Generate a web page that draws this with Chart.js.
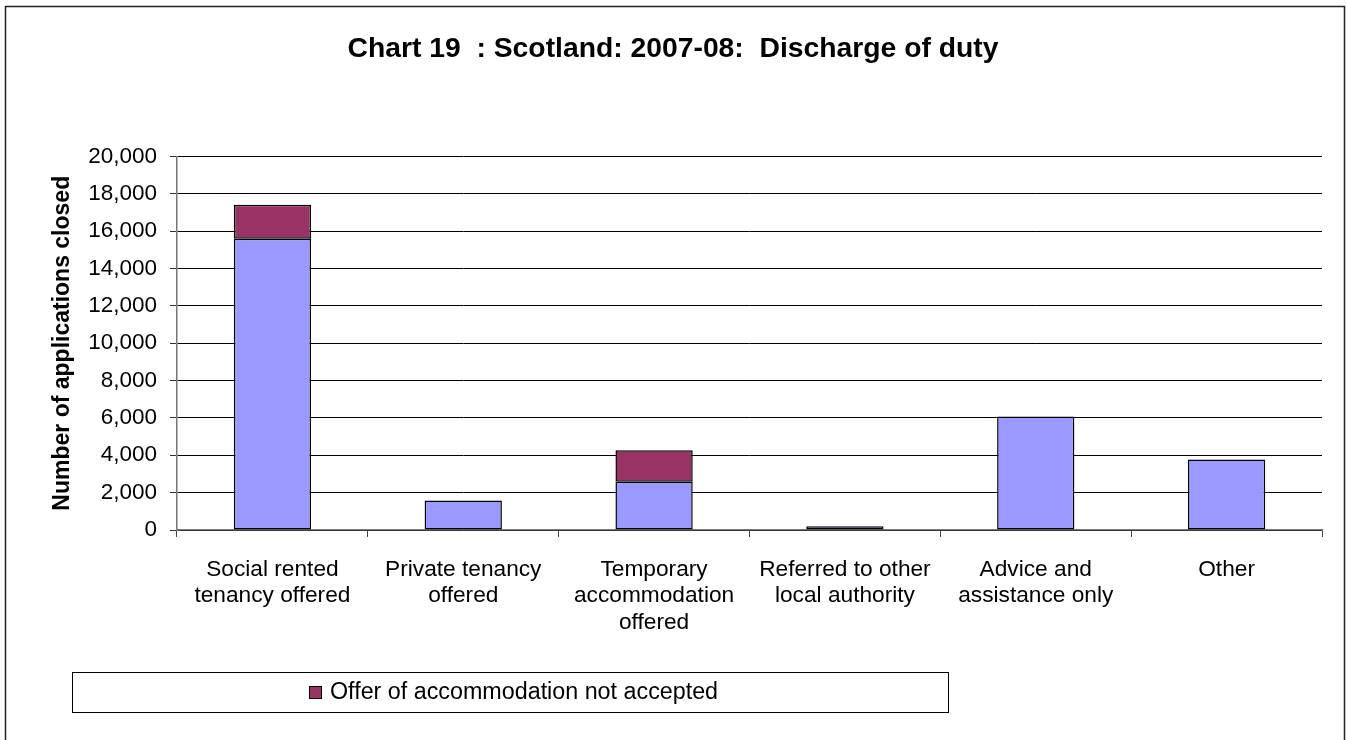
<!DOCTYPE html>
<html>
<head>
<meta charset="utf-8">
<script src="https://cdn.jsdelivr.net/npm/chart.js@4.4.1/dist/chart.umd.min.js"></script>
<style>
  html, body { margin: 0; padding: 0; background: #fff; }
  canvas { display: block; }
</style>
</head>
<body>
<canvas id="c" width="1347" height="740"></canvas>
<script>
const categories = [
  ["Social rented", "tenancy offered"],
  ["Private tenancy", "offered"],
  ["Temporary", "accommodation", "offered"],
  ["Referred to other", "local authority"],
  ["Advice and", "assistance only"],
  ["Other"]
];
const acceptedValues = [15600, 1580, 2590, 200, 6080, 3780];
const notAcceptedValues = [1820, null, 1680, null, null, null];
const yTickValues = [0, 2000, 4000, 6000, 8000, 10000, 12000, 14000, 16000, 18000, 20000];
const chartTitle = "Chart 19  : Scotland: 2007-08:  Discharge of duty";
const yAxisTitle = "Number of applications closed";
const legendLabel = "Offer of accommodation not accepted";

const FONT = "'Liberation Sans', Arial, sans-serif";

const frameAndLegend = {
  id: 'frameAndLegend',
  beforeDraw(chart) {
    const ctx = chart.ctx;
    ctx.save();
    ctx.fillStyle = '#fff';
    ctx.fillRect(0, 0, chart.width, chart.height);
    ctx.restore();
  },
  afterDraw(chart) {
    const ctx = chart.ctx;
    ctx.save();
    // outer frame
    ctx.strokeStyle = '#222';
    ctx.lineWidth = 1.5;
    ctx.strokeRect(5.5, 6.5, 1339, 745);
    // legend box
    ctx.lineWidth = 1;
    ctx.strokeStyle = '#000';
    ctx.strokeRect(72.5, 672.5, 876, 40);
    const ds = chart.data.datasets[1];
    ctx.fillStyle = ds.backgroundColor;
    ctx.fillRect(309.5, 686.5, 12, 12);
    ctx.strokeRect(309.5, 686.5, 12, 12);
    ctx.fillStyle = '#000';
    ctx.font = "23.3px " + FONT;
    ctx.textBaseline = 'middle';
    ctx.textAlign = 'left';
    ctx.fillText(ds.label, 330, 693);
    ctx.restore();
  }
};

new Chart(document.getElementById('c'), {
  type: 'bar',
  data: {
    labels: categories,
    datasets: [
      {
        label: 'Offer of accommodation accepted',
        data: acceptedValues,
        backgroundColor: '#9999FF',
        borderColor: '#000',
        borderWidth: 1.5,
        borderSkipped: false,
        categoryPercentage: 1.0,
        barPercentage: 0.405
      },
      {
        label: legendLabel,
        data: notAcceptedValues,
        backgroundColor: '#993366',
        borderColor: '#000',
        borderWidth: 1.5,
        borderSkipped: false,
        categoryPercentage: 1.0,
        barPercentage: 0.405
      }
    ]
  },
  options: {
    responsive: false,
    animation: false,
    layout: { padding: { top: 20, left: 24, right: 25, bottom: 100 } },
    plugins: {
      legend: { display: false },
      tooltip: { enabled: false },
      title: {
        display: true,
        text: chartTitle,
        color: '#000',
        font: { family: FONT, size: 28.3, weight: 'bold', lineHeight: 1.2 },
        padding: { top: 12, bottom: 90.5 }
      }
    },
    scales: {
      x: {
        stacked: true,
        offset: true,
        grid: {
          offset: true,
          drawOnChartArea: false,
          drawTicks: true,
          tickLength: 7,
          tickColor: '#444',
          color: '#444'
        },
        border: { display: true, color: '#777', width: 1.5 },
        ticks: {
          color: '#000',
          padding: 19,
          maxRotation: 0,
          autoSkip: false,
          font: { family: FONT, size: 22.7, lineHeight: 1.18 }
        },
        afterFit(scale) { scale.height = 110; }
      },
      y: {
        stacked: true,
        min: 0,
        max: 20000,
        afterBuildTicks(scale) { scale.ticks = yTickValues.map(v => ({ value: v })); },
        grid: {
          color: '#000',
          lineWidth: 1,
          tickLength: 7,
          tickColor: '#333'
        },
        border: { display: true, color: '#777', width: 1.5 },
        ticks: {
          color: '#000',
          padding: 13,
          font: { family: FONT, size: 22.5 },
          callback: (v) => Number(v).toLocaleString('en-US')
        },
        title: {
          display: true,
          text: yAxisTitle,
          color: '#000',
          padding: { top: 24.5, bottom: 0 },
          font: { family: FONT, size: 23, weight: 'bold', lineHeight: 1.2 }
        },
        afterFit(scale) { scale.width = 153; }
      }
    }
  },
  plugins: [frameAndLegend]
});
</script>
</body>
</html>
